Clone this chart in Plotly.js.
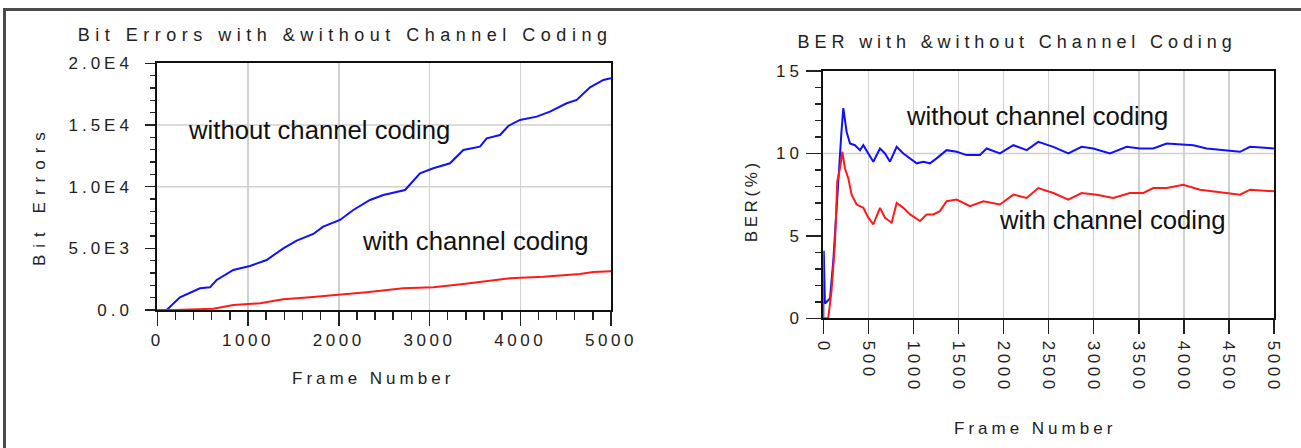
<!DOCTYPE html>
<html>
<head>
<meta charset="utf-8">
<script src="https://cdn.plot.ly/plotly-3.0.1.min.js"></script>
<style>
  html, body { margin: 0; padding: 0; background: #fff; }
  #wrap { position: relative; width: 1301px; height: 448px; overflow: hidden; }
  #chart { position: absolute; left: 0; top: 0; width: 1301px; height: 448px; }
  #frame { position: absolute; left: 3px; top: 8px; width: 1400px; height: 500px;
           border-top: 3px solid #4a4a4a; border-left: 3px solid #4a4a4a; pointer-events: none; z-index: 5; }
  .annotation[data-index="0"] text { letter-spacing: 5.5px; }
  .annotation[data-index="1"] text { letter-spacing: 4.9px; }
  .annotation[data-index="2"] text, .annotation[data-index="3"] text { letter-spacing: 4px; }
  .annotation[data-index="4"] text { letter-spacing: 7px; }
  .annotation[data-index="5"] text { letter-spacing: 3.6px; }
  .xtick text, .x2tick text { letter-spacing: 3.6px; }
  .ytick text, .y2tick text { letter-spacing: 4px; }
</style>
</head>
<body>
<div id="wrap">
  <div id="chart"></div>
  <div id="frame"></div>
</div>
<script>
// ---- Left chart: cumulative bit errors ----
const leftTitle = "Bit Errors with &without Channel Coding";
const leftYTitle = "Bit Errors";
const frameWithoutL = [0, 103, 250, 470, 580, 654, 838, 1021, 1205, 1389, 1536, 1719, 1829, 2013, 2160, 2344, 2491, 2730, 2895, 3042, 3226, 3373, 3556, 3630, 3777, 3868, 3997, 4181, 4328, 4511, 4622, 4769, 4916, 5000];
const bitErrWithout = [0, 0, 1027, 1757, 1838, 2432, 3243, 3568, 4054, 5000, 5622, 6162, 6757, 7297, 8108, 8919, 9324, 9730, 11081, 11486, 11892, 12973, 13243, 13919, 14189, 14919, 15405, 15676, 16081, 16757, 17027, 18054, 18649, 18784];
const frameWithL = [0, 200, 617, 838, 1132, 1389, 1683, 1977, 2307, 2711, 3042, 3373, 3593, 3887, 4254, 4658, 4805, 5000];
const bitErrWith = [0, 0, 108, 405, 540, 865, 1027, 1216, 1432, 1757, 1838, 2108, 2297, 2568, 2703, 2919, 3081, 3135];
const leftXTicks = [0, 1000, 2000, 3000, 4000, 5000];
const leftXTickText = ["0", "1000", "2000", "3000", "4000", "5000"];
const leftYTicks = [0, 5000, 10000, 15000, 20000];
const leftYTickText = ["0.0", "5.0E3", "1.0E4", "1.5E4", "2.0E4"];
const leftYGrid = [10000, 15000];

// ---- Right chart: BER (%) ----
const rightTitle = "BER with &without Channel Coding";
const rightYTitle = "BER(%)";
const frameWithoutR = [0, 5, 18, 74, 111, 129, 155, 177, 200, 222, 240, 259, 296, 351, 407, 444, 499, 555, 629, 684, 740, 814, 888, 962, 1036, 1110, 1183, 1257, 1368, 1479, 1590, 1738, 1812, 1960, 2108, 2256, 2385, 2552, 2718, 2866, 2995, 3180, 3365, 3513, 3661, 3809, 4105, 4253, 4475, 4623, 4734, 5000];
const berWithout = [0, 4.1, 0.9, 1.2, 3.5, 5.1, 7.1, 9.5, 11.2, 12.75, 11.9, 11.3, 10.6, 10.5, 10.2, 10.5, 10.0, 9.5, 10.3, 10.0, 9.5, 10.4, 10.0, 9.7, 9.4, 9.5, 9.4, 9.7, 10.2, 10.1, 9.9, 9.9, 10.3, 10.0, 10.5, 10.2, 10.7, 10.4, 10.0, 10.4, 10.3, 10.0, 10.4, 10.3, 10.3, 10.6, 10.5, 10.3, 10.2, 10.1, 10.4, 10.3];
const frameWithR = [0, 55, 92, 129, 155, 185, 211, 240, 277, 314, 370, 444, 499, 555, 629, 684, 758, 814, 888, 962, 1073, 1146, 1220, 1294, 1368, 1479, 1627, 1775, 1960, 2108, 2256, 2385, 2552, 2718, 2866, 3032, 3217, 3402, 3550, 3661, 3809, 3994, 4179, 4438, 4623, 4734, 5000];
const berWith = [0, 0, 1.7, 4.5, 8.3, 9.1, 10.1, 9.1, 8.5, 7.5, 6.9, 6.7, 6.1, 5.7, 6.7, 6.1, 5.8, 7.0, 6.7, 6.3, 5.9, 6.3, 6.3, 6.5, 7.1, 7.2, 6.8, 7.1, 6.9, 7.5, 7.3, 7.9, 7.6, 7.2, 7.6, 7.5, 7.3, 7.6, 7.6, 7.9, 7.9, 8.1, 7.8, 7.6, 7.5, 7.8, 7.7];
const rightXTicks = [0, 500, 1000, 1500, 2000, 2500, 3000, 3500, 4000, 4500, 5000];
const rightXTickText = ["0", "500", "1000", "1500", "2000", "2500", "3000", "3500", "4000", "4500", "5000"];
const rightYTicks = [0, 5, 10, 15];
const rightYTickText = ["0", "5", "10", "15"];
const rightYGrid = [10];

const labelWithout = "without channel coding";
const labelWith = "with channel coding";
const xTitle = "Frame Number";

const BLUE = "#1010ff", RED = "#ff1a1a", INK = "#222222", GRID = "#d0d0d0";
const FONT = "Liberation Sans, Arial, sans-serif";

const traces = [
  {x: frameWithoutL, y: bitErrWithout, xaxis: "x", yaxis: "y", mode: "lines", line: {color: BLUE, width: 2}},
  {x: frameWithL, y: bitErrWith, xaxis: "x", yaxis: "y", mode: "lines", line: {color: RED, width: 2}},
  {x: frameWithoutR, y: berWithout, xaxis: "x2", yaxis: "y2", mode: "lines", line: {color: BLUE, width: 2}},
  {x: frameWithR, y: berWith, xaxis: "x2", yaxis: "y2", mode: "lines", line: {color: RED, width: 2}}
];

const axisCommon = {
  showline: true, linecolor: "#111", linewidth: 2, mirror: true,
  ticks: "outside", tickcolor: INK, tickwidth: 1.5, zeroline: false,
  tickfont: {family: FONT, size: 17, color: INK}, tickmode: "array"
};

const txt = (text, x, y, size, extra) => Object.assign({
  text: text, xref: "paper", yref: "paper", x: x / 1301, y: 1 - y / 448,
  xanchor: "center", yanchor: "middle", showarrow: false,
  font: {family: FONT, size: size, color: INK}
}, extra || {});
const lbl = (text, ax, x, y) => ({
  text: text, xref: "x" + ax, yref: "y" + ax, x: x, y: y,
  xanchor: "center", yanchor: "middle", showarrow: false,
  font: {family: FONT, size: 25.7, color: "#111"}
});

const layout = {
  width: 1301, height: 448,
  margin: {l: 0, r: 0, t: 0, b: 0},
  paper_bgcolor: "#fff", plot_bgcolor: "#fff",
  showlegend: false,
  xaxis: Object.assign({}, axisCommon, {
    domain: [157.3/1301, 611/1301], range: [0, 5000], anchor: "y",
    tickvals: leftXTicks, ticktext: leftXTickText, ticklen: 14, ticklabelstandoff: 0,
    showgrid: true, gridcolor: GRID, gridwidth: 1.5,
    minor: {tickmode: "linear", tick0: 0, dtick: 200, ticks: "outside", ticklen: 8, tickcolor: INK, tickwidth: 1.5, showgrid: false}
  }),
  yaxis: Object.assign({}, axisCommon, {
    domain: [(448-310)/448, (448-63.3)/448], range: [0, 20000], anchor: "x",
    tickvals: leftYTicks, ticktext: leftYTickText, ticklen: 10, ticklabelstandoff: 9,
    showgrid: false,
    minor: {tickmode: "linear", tick0: 0, dtick: 1000, ticks: "outside", ticklen: 5, tickcolor: INK, tickwidth: 1.5, showgrid: false}
  }),
  xaxis2: Object.assign({}, axisCommon, {
    domain: [823.3/1301, 1274/1301], range: [0, 5000], anchor: "y2",
    tickvals: rightXTicks, ticktext: rightXTickText, ticklen: 14, tickangle: 90, ticklabelstandoff: 3,
    showgrid: true, gridcolor: GRID, gridwidth: 1.5
  }),
  yaxis2: Object.assign({}, axisCommon, {
    domain: [(448-318.3)/448, (448-71)/448], range: [0, 15], anchor: "x2",
    tickvals: rightYTicks, ticktext: rightYTickText, ticklen: 15, ticklabelstandoff: 0,
    showgrid: false,
    minor: {tickmode: "linear", tick0: 0, dtick: 1, ticks: "outside", ticklen: 6, tickcolor: INK, tickwidth: 1.5, showgrid: false}
  }),
  shapes: [].concat(
    leftYGrid.map(v => ({type: "line", xref: "x domain", yref: "y", x0: 0, x1: 1, y0: v, y1: v, layer: "below", line: {color: GRID, width: 1.5}})),
    rightYGrid.map(v => ({type: "line", xref: "x2 domain", yref: "y2", x0: 0, x1: 1, y0: v, y1: v, layer: "below", line: {color: GRID, width: 1.5}}))
  ),
  annotations: [
    txt(leftTitle, 345, 35, 18),
    txt(rightTitle, 1017, 42, 18),
    txt(xTitle, 373, 378, 17),
    txt(xTitle, 1035, 428, 17),
    txt(leftYTitle, 39, 196, 17, {textangle: -90}),
    txt(rightYTitle, 750.5, 201, 17, {textangle: -90}),
    lbl(labelWithout, "", 1780, 14575),
    lbl(labelWith, "", 3505, 5587),
    lbl(labelWithout, "2", 2375, 12.3),
    lbl(labelWith, "2", 3210, 5.98)
  ]
};

Plotly.newPlot("chart", traces, layout, {staticPlot: true, displayModeBar: false});
</script>
</body>
</html>
